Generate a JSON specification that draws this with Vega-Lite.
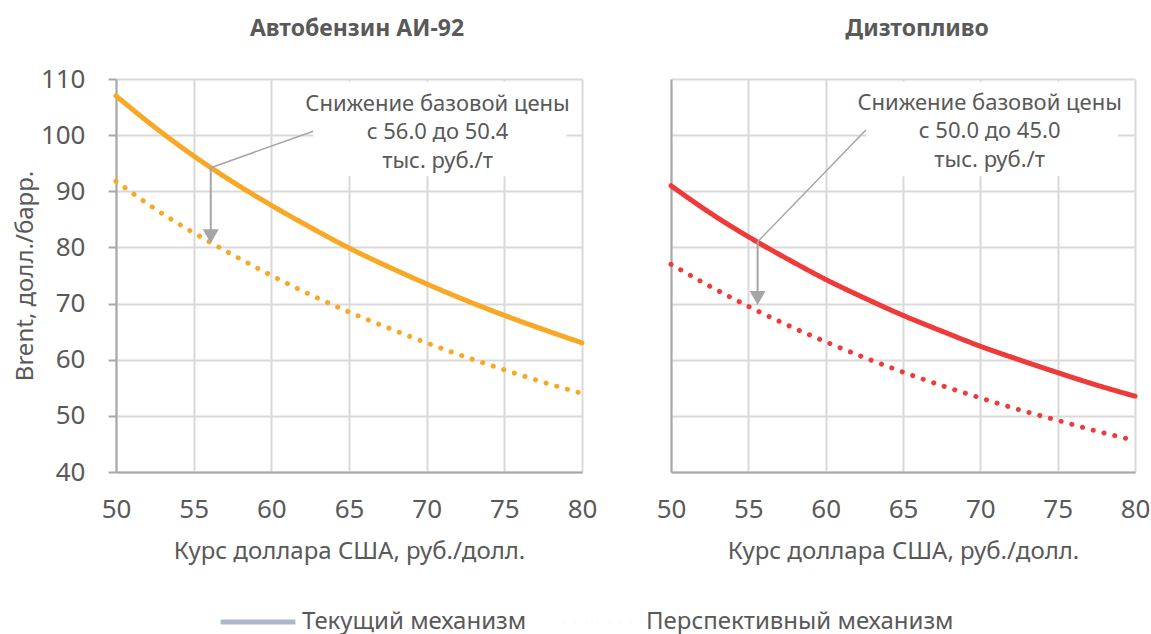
{
  "$schema": "https://vega.github.io/schema/vega-lite/v6.json",
  "background": "white",
  "padding": {"left": 13, "top": 18, "right": 10, "bottom": 5},
  "datasets": {
    "curves": [
      {"panel": "A", "mech": "Текущий механизм", "x": 50, "y": 107.0},
      {"panel": "A", "mech": "Текущий механизм", "x": 52.5, "y": 101.4},
      {"panel": "A", "mech": "Текущий механизм", "x": 55, "y": 96.3},
      {"panel": "A", "mech": "Текущий механизм", "x": 57.5, "y": 91.7},
      {"panel": "A", "mech": "Текущий механизм", "x": 60, "y": 87.5},
      {"panel": "A", "mech": "Текущий механизм", "x": 62.5, "y": 83.6},
      {"panel": "A", "mech": "Текущий механизм", "x": 65, "y": 79.9},
      {"panel": "A", "mech": "Текущий механизм", "x": 67.5, "y": 76.6},
      {"panel": "A", "mech": "Текущий механизм", "x": 70, "y": 73.5},
      {"panel": "A", "mech": "Текущий механизм", "x": 72.5, "y": 70.6},
      {"panel": "A", "mech": "Текущий механизм", "x": 75, "y": 67.9},
      {"panel": "A", "mech": "Текущий механизм", "x": 77.5, "y": 65.4},
      {"panel": "A", "mech": "Текущий механизм", "x": 80, "y": 63.0},
      {"panel": "A", "mech": "Перспективный механизм", "x": 50, "y": 91.8},
      {"panel": "A", "mech": "Перспективный механизм", "x": 52.5, "y": 86.9},
      {"panel": "A", "mech": "Перспективный механизм", "x": 55, "y": 82.6},
      {"panel": "A", "mech": "Перспективный механизм", "x": 57.5, "y": 78.7},
      {"panel": "A", "mech": "Перспективный механизм", "x": 60, "y": 75.0},
      {"panel": "A", "mech": "Перспективный механизм", "x": 62.5, "y": 71.6},
      {"panel": "A", "mech": "Перспективный механизм", "x": 65, "y": 68.5},
      {"panel": "A", "mech": "Перспективный механизм", "x": 67.5, "y": 65.7},
      {"panel": "A", "mech": "Перспективный механизм", "x": 70, "y": 63.0},
      {"panel": "A", "mech": "Перспективный механизм", "x": 72.5, "y": 60.5},
      {"panel": "A", "mech": "Перспективный механизм", "x": 75, "y": 58.2},
      {"panel": "A", "mech": "Перспективный механизм", "x": 77.5, "y": 56.0},
      {"panel": "A", "mech": "Перспективный механизм", "x": 80, "y": 54.0},
      {"panel": "D", "mech": "Текущий механизм", "x": 50, "y": 91.0},
      {"panel": "D", "mech": "Текущий механизм", "x": 52.5, "y": 86.2},
      {"panel": "D", "mech": "Текущий механизм", "x": 55, "y": 81.9},
      {"panel": "D", "mech": "Текущий механизм", "x": 57.5, "y": 78.0},
      {"panel": "D", "mech": "Текущий механизм", "x": 60, "y": 74.3},
      {"panel": "D", "mech": "Текущий механизм", "x": 62.5, "y": 71.0},
      {"panel": "D", "mech": "Текущий механизм", "x": 65, "y": 67.9},
      {"panel": "D", "mech": "Текущий механизм", "x": 67.5, "y": 65.1},
      {"panel": "D", "mech": "Текущий механизм", "x": 70, "y": 62.4},
      {"panel": "D", "mech": "Текущий механизм", "x": 72.5, "y": 60.0},
      {"panel": "D", "mech": "Текущий механизм", "x": 75, "y": 57.7},
      {"panel": "D", "mech": "Текущий механизм", "x": 77.5, "y": 55.5},
      {"panel": "D", "mech": "Текущий механизм", "x": 80, "y": 53.5},
      {"panel": "D", "mech": "Перспективный механизм", "x": 50, "y": 77.0},
      {"panel": "D", "mech": "Перспективный механизм", "x": 52.5, "y": 73.1},
      {"panel": "D", "mech": "Перспективный механизм", "x": 55, "y": 69.5},
      {"panel": "D", "mech": "Перспективный механизм", "x": 57.5, "y": 66.2},
      {"panel": "D", "mech": "Перспективный механизм", "x": 60, "y": 63.2},
      {"panel": "D", "mech": "Перспективный механизм", "x": 62.5, "y": 60.4},
      {"panel": "D", "mech": "Перспективный механизм", "x": 65, "y": 57.8},
      {"panel": "D", "mech": "Перспективный механизм", "x": 67.5, "y": 55.4},
      {"panel": "D", "mech": "Перспективный механизм", "x": 70, "y": 53.2},
      {"panel": "D", "mech": "Перспективный механизм", "x": 72.5, "y": 51.1},
      {"panel": "D", "mech": "Перспективный механизм", "x": 75, "y": 49.2},
      {"panel": "D", "mech": "Перспективный механизм", "x": 77.5, "y": 47.3},
      {"panel": "D", "mech": "Перспективный механизм", "x": 80, "y": 45.6}
    ],
    "boxes": [
      {"panel": "A", "x": 62.7, "x2": 79.0, "y": 92.7, "y2": 109.5},
      {"panel": "D", "x": 62.6, "x2": 78.9, "y": 92.7, "y2": 109.5}
    ],
    "leaders": [
      {"panel": "A", "x": 56.1, "y": 94.2, "x2": 62.7, "y2": 100.7},
      {"panel": "D", "x": 55.6, "y": 81.0, "x2": 62.6, "y2": 100.9}
    ],
    "arrows": [
      {"panel": "A", "x": 56.1, "y": 94.2, "y2": 82.0},
      {"panel": "D", "x": 55.6, "y": 81.0, "y2": 71.0}
    ],
    "labels": [
      {"panel": "A", "x": 70.7, "y": 105.6, "text": ["Снижение базовой цены", "с 56.0 до 50.4", "тыс. руб./т"]},
      {"panel": "D", "x": 70.6, "y": 105.8, "text": ["Снижение базовой цены", "с 50.0 до 45.0", "тыс. руб./т"]}
    ]
  },
  "config": {
    "font": "Noto Sans",
    "view": {"stroke": null},
    "concat": {"spacing": 59},
    "axis": {
      "labelFont": "Noto Sans",
      "labelFontSize": 26,
      "labelColor": "#595959",
      "labelFlush": false,
      "titleFont": "Noto Sans",
      "titleFontSize": 24,
      "titleFontWeight": "normal",
      "titleColor": "#595959",
      "gridColor": "#d9d9d9",
      "gridWidth": 2,
      "domainColor": "#a6a6a6",
      "domainWidth": 2,
      "tickColor": "#a6a6a6",
      "tickWidth": 2
    },
    "title": {
      "font": "Noto Sans",
      "fontSize": 23,
      "fontWeight": "bold",
      "color": "#595959",
      "anchor": "middle",
      "frame": "group"
    },
    "legend": {
      "labelFont": "Noto Sans",
      "labelFontSize": 24,
      "labelColor": "#595959",
      "labelLimit": 500
    }
  },
  "hconcat": [
    {
      "width": 466,
      "height": 393,
      "title": {"text": "Автобензин АИ-92", "offset": 25, "dx": 8},
      "layer": [
        {
          "data": {"name": "boxes"},
          "transform": [{"filter": "datum.panel === 'A'"}],
          "mark": {"type": "rect", "fill": "white"},
          "encoding": {
            "x": {"field": "x", "type": "quantitative"},
            "x2": {"field": "x2"},
            "y": {"field": "y", "type": "quantitative"},
            "y2": {"field": "y2"}
          }
        },
        {
          "data": {"name": "curves"},
          "transform": [{"filter": "datum.panel === 'A'"}],
          "mark": {"type": "line", "strokeWidth": 5, "strokeCap": "round", "interpolate": "monotone"},
          "encoding": {
            "x": {
              "field": "x", "type": "quantitative",
              "scale": {"domain": [50, 80], "nice": false, "zero": false},
              "axis": {"title": "Курс доллара США, руб./долл.", "values": [50, 55, 60, 65, 70, 75, 80], "ticks": false, "labelPadding": 24, "titlePadding": 17, "grid": true}
            },
            "y": {
              "field": "y", "type": "quantitative",
              "scale": {"domain": [40, 110], "nice": false, "zero": false},
              "axis": {"title": "Brent, долл./барр.", "values": [40, 50, 60, 70, 80, 90, 100, 110], "tickSize": 8, "labelPadding": 23, "titlePadding": 3, "grid": true}
            },
            "color": {
              "field": "panel", "type": "nominal",
              "scale": {"domain": ["A", "D"], "range": ["#f8a824", "#ee3b39"]},
              "legend": null
            },
            "detail": {"field": "mech"},
            "strokeDash": {
              "field": "mech", "type": "nominal",
              "scale": {"domain": ["Текущий механизм", "Перспективный механизм"], "range": [[1, 0], [0.1, 11]]},
              "legend": {
                "title": null,
                "orient": "none",
                "direction": "horizontal",
                "legendX": 102,
                "legendY": 503,
                "symbolType": "stroke",
                "symbolSize": 5600,
                "symbolStrokeWidth": 5,
                "symbolStrokeColor": "#adb9ca",
                "columnPadding": 27,
                "labelOffset": 4,
                "labelLimit": 500
              }
            }
          }
        },
        {
          "data": {"name": "leaders"},
          "transform": [{"filter": "datum.panel === 'A'"}],
          "mark": {"type": "rule", "color": "#a5a5a5", "strokeWidth": 1.5},
          "encoding": {
            "x": {"field": "x", "type": "quantitative"},
            "y": {"field": "y", "type": "quantitative"},
            "x2": {"field": "x2"},
            "y2": {"field": "y2"}
          }
        },
        {
          "data": {"name": "arrows"},
          "transform": [{"filter": "datum.panel === 'A'"}],
          "mark": {"type": "rule", "color": "#a5a5a5", "strokeWidth": 2},
          "encoding": {
            "x": {"field": "x", "type": "quantitative"},
            "y": {"field": "y", "type": "quantitative"},
            "y2": {"field": "y2"}
          }
        },
        {
          "data": {"name": "arrows"},
          "transform": [{"filter": "datum.panel === 'A'"}],
          "mark": {"type": "point", "shape": "triangle-down", "filled": true, "color": "#a5a5a5", "size": 256, "opacity": 1},
          "encoding": {
            "x": {"field": "x", "type": "quantitative"},
            "y": {"field": "y2", "type": "quantitative"}
          }
        },
        {
          "data": {"name": "labels"},
          "transform": [{"filter": "datum.panel === 'A'"}],
          "mark": {"type": "text", "font": "Noto Sans", "fontSize": 22, "color": "#595959", "align": "center", "baseline": "middle", "lineHeight": 28.5},
          "encoding": {
            "x": {"field": "x", "type": "quantitative"},
            "y": {"field": "y", "type": "quantitative"},
            "text": {"field": "text"}
          }
        }
      ]
    },
    {
      "width": 464,
      "height": 393,
      "title": {"text": "Дизтопливо", "offset": 38, "dx": 14},
      "layer": [
        {
          "data": {"name": "boxes"},
          "transform": [{"filter": "datum.panel === 'D'"}],
          "mark": {"type": "rect", "fill": "white"},
          "encoding": {
            "x": {"field": "x", "type": "quantitative"},
            "x2": {"field": "x2"},
            "y": {"field": "y", "type": "quantitative"},
            "y2": {"field": "y2"}
          }
        },
        {
          "data": {"name": "curves"},
          "transform": [{"filter": "datum.panel === 'D'"}],
          "mark": {"type": "line", "strokeWidth": 5, "strokeCap": "round", "interpolate": "monotone"},
          "encoding": {
            "x": {
              "field": "x", "type": "quantitative",
              "scale": {"domain": [50, 80], "nice": false, "zero": false},
              "axis": {"title": "Курс доллара США, руб./долл.", "values": [50, 55, 60, 65, 70, 75, 80], "ticks": false, "labelPadding": 24, "titlePadding": 17, "grid": true}
            },
            "y": {
              "field": "y", "type": "quantitative",
              "scale": {"domain": [40, 110], "nice": false, "zero": false},
              "axis": {"title": null, "values": [40, 50, 60, 70, 80, 90, 100, 110], "labels": false, "ticks": false, "grid": true}
            },
            "color": {
              "field": "panel", "type": "nominal",
              "scale": {"domain": ["A", "D"], "range": ["#f8a824", "#ee3b39"]},
              "legend": null
            },
            "detail": {"field": "mech"},
            "strokeDash": {
              "field": "mech", "type": "nominal",
              "scale": {"domain": ["Текущий механизм", "Перспективный механизм"], "range": [[1, 0], [0.1, 11]]}
            }
          }
        },
        {
          "data": {"name": "leaders"},
          "transform": [{"filter": "datum.panel === 'D'"}],
          "mark": {"type": "rule", "color": "#a5a5a5", "strokeWidth": 1.5},
          "encoding": {
            "x": {"field": "x", "type": "quantitative"},
            "y": {"field": "y", "type": "quantitative"},
            "x2": {"field": "x2"},
            "y2": {"field": "y2"}
          }
        },
        {
          "data": {"name": "arrows"},
          "transform": [{"filter": "datum.panel === 'D'"}],
          "mark": {"type": "rule", "color": "#a5a5a5", "strokeWidth": 2},
          "encoding": {
            "x": {"field": "x", "type": "quantitative"},
            "y": {"field": "y", "type": "quantitative"},
            "y2": {"field": "y2"}
          }
        },
        {
          "data": {"name": "arrows"},
          "transform": [{"filter": "datum.panel === 'D'"}],
          "mark": {"type": "point", "shape": "triangle-down", "filled": true, "color": "#a5a5a5", "size": 256, "opacity": 1},
          "encoding": {
            "x": {"field": "x", "type": "quantitative"},
            "y": {"field": "y2", "type": "quantitative"}
          }
        },
        {
          "data": {"name": "labels"},
          "transform": [{"filter": "datum.panel === 'D'"}],
          "mark": {"type": "text", "font": "Noto Sans", "fontSize": 22, "color": "#595959", "align": "center", "baseline": "middle", "lineHeight": 28.5},
          "encoding": {
            "x": {"field": "x", "type": "quantitative"},
            "y": {"field": "y", "type": "quantitative"},
            "text": {"field": "text"}
          }
        }
      ]
    }
  ],
  "resolve": {"scale": {"strokeDash": "shared", "color": "shared"}}
}
